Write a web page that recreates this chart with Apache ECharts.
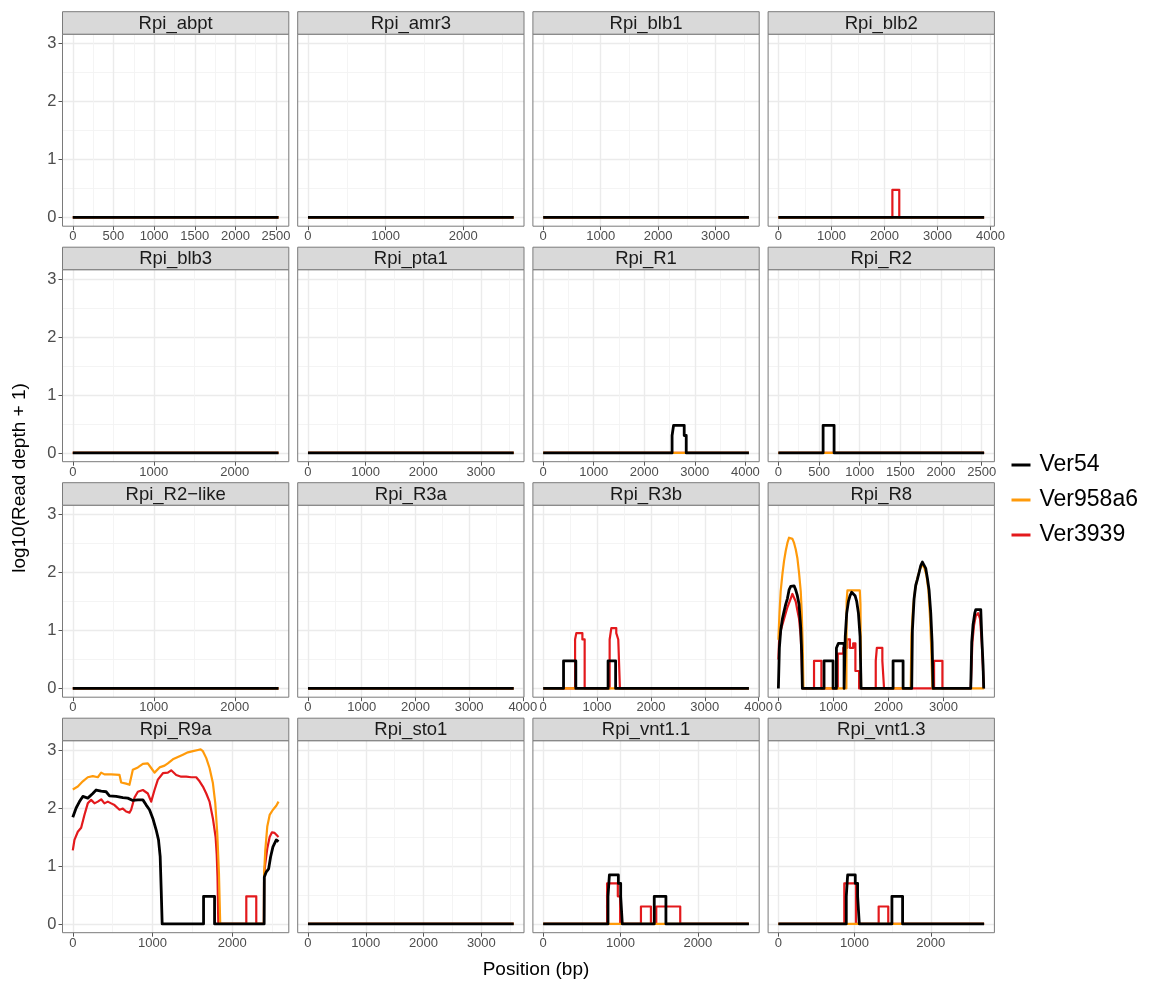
<!DOCTYPE html>
<html><head><meta charset="utf-8">
<script src="https://cdn.jsdelivr.net/npm/echarts@6/dist/echarts.min.js"></script>
<style>html,body{margin:0;padding:0;background:#fff}#c{width:1151px;height:982px}</style>
</head><body><div id="c"></div>
<script>
// ---------- data ----------
const samples = ['Ver54', 'Ver958a6', 'Ver3939'];
const genes = ['Rpi_abpt','Rpi_amr3','Rpi_blb1','Rpi_blb2','Rpi_blb3','Rpi_pta1','Rpi_R1','Rpi_R2',
  'Rpi_R2\u2212like','Rpi_R3a','Rpi_R3b','Rpi_R8','Rpi_R9a','Rpi_sto1','Rpi_vnt1.1','Rpi_vnt1.3'];
const geneLength = [2530, 2650, 3580, 3880, 2540, 3570, 4070, 2530, 2540, 3830, 3820, 3740, 2580, 3560, 2660, 2700];
const xTickStep = [500, 1000, 1000, 1000, 1000, 1000, 1000, 500, 1000, 1000, 1000, 1000, 1000, 1000, 1000, 1000];
const yTicks = [0, 1, 2, 3];
const yMinorTicks = [0.5, 1.5, 2.5];
const yDataMax = 3.01;

// coverage profiles: [position (bp), log10(depth + 1)]
const blb2_Ver3939 = [[0,0],[2150,0],[2150,0.477],[2280,0.477],[2280,0],[3880,0]];
const R1_Ver54 = [[0,0],[2550,0],[2550,0.301],[2580,0.301],[2580,0.477],[2790,0.477],[2790,0.301],[2830,0.301],[2830,0],[4070,0]];
const R2_Ver54 = [[0,0],[550,0],[550,0.477],[685,0.477],[685,0],[2530,0]];
const R3b_Ver54 = [[0,0],[378,0],[378,0.477],[606,0.477],[606,0],[1205,0],[1205,0.477],[1345,0.477],[1345,0],[3820,0]];
const R3b_Ver3939 = [[0,0],[592,0],[592,0.845],[615,0.845],[615,0.954],[728,0.954],[728,0.845],[770,0.845],[770,0],
  [1234,0],[1234,0.845],[1265,0.845],[1265,1.041],[1357,1.041],[1357,0.954],[1394,0.954],[1394,0.845],[1425,0.845],[1425,0],[3820,0]];
const R8_Ver54 = [[0,0],[18,0.7],[42,1.0],[73,1.2],[103,1.33],[133,1.45],[164,1.55],[194,1.7],[224,1.76],[255,1.79],[285,1.77],[315,1.7],[345,1.6],[376,1.45],[406,1.05],[424,0.6],[436,0],
  [830,0],[830,0.477],[994,0.477],[994,0],[1055,0],[1055,0.699],[1091,0.699],[1091,0.778],[1194,0.778],[1194,0],
  [1212,0],[1216,0.9],[1242,1.3],[1273,1.5],[1303,1.6],[1333,1.66],[1364,1.65],[1394,1.6],[1424,1.5],[1455,1.3],[1485,0.9],[1503,0],
  [2085,0],[2085,0.477],[2267,0.477],[2267,0],
  [2424,0],[2436,1.0],[2467,1.55],[2497,1.78],[2527,1.88],[2558,2.0],[2588,2.12],[2618,2.18],[2648,2.15],[2679,2.07],[2709,1.9],[2739,1.7],[2770,1.3],[2794,0.8],[2812,0],
  [3497,0],[3515,0.8],[3539,1.1],[3570,1.3],[3588,1.36],[3679,1.36],[3697,0.9],[3721,0.4],[3733,0],[3740,0]];
const R8_Ver958a6 = [[0,0.84],[20,1.3],[42,1.68],[73,1.97],[103,2.2],[133,2.37],[164,2.51],[194,2.6],[224,2.61],[255,2.58],[285,2.51],[315,2.4],[345,2.25],[376,1.99],[406,1.68],[424,1.33],[442,0.75],[455,0],
  [1236,0],[1240,1.5],[1255,1.69],[1480,1.69],[1492,1.45],[1503,0],
  [2406,0],[2418,0.9],[2448,1.4],[2485,1.7],[2527,1.9],[2570,2.05],[2606,2.12],[2648,2.1],[2691,1.95],[2727,1.7],[2758,1.2],[2782,0.6],[2800,0],
  [3740,0]];
const R8_Ver3939 = [[0,0.5],[12,0.8],[42,1.0],[103,1.2],[164,1.4],[224,1.55],[255,1.63],[285,1.6],[315,1.5],[345,1.35],[376,1.2],[406,0.9],[424,0.5],[436,0],
  [648,0],[648,0.477],[782,0.477],[782,0],
  [1080,0],[1080,0.602],[1180,0.602],[1180,0.699],[1250,0.699],[1250,0.845],[1300,0.845],[1300,0.699],[1360,0.699],[1360,0.778],[1400,0.778],[1400,0.301],[1467,0.301],[1467,0],
  [1770,0],[1770,0.477],[1790,0.477],[1790,0.699],[1890,0.699],[1890,0.477],[1921,0.477],[1921,0],
  [2830,0],[2830,0.477],[2982,0.477],[2982,0],
  [3497,0],[3527,0.8],[3558,1.1],[3588,1.25],[3630,1.3],[3667,1.2],[3697,0.8],[3721,0.3],[3733,0],[3740,0]];
const R9a_Ver54 = [[0,1.84],[42,2.0],[84,2.11],[126,2.2],[188,2.17],[251,2.25],[293,2.31],[356,2.29],[418,2.28],[460,2.21],[544,2.2],[628,2.18],[690,2.17],[753,2.13],[816,2.14],[879,2.14],[921,2.05],[962,1.97],[1004,1.82],[1046,1.62],[1075,1.45],[1096,1.16],[1109,0.58],[1121,0],
  [1640,0],[1640,0.477],[1778,0.477],[1778,0],
  [2400,0],[2402,0.81],[2427,0.9],[2456,0.95],[2481,1.16],[2510,1.33],[2552,1.45],[2580,1.42]];
const R9a_Ver958a6 = [[0,2.32],[63,2.37],[126,2.46],[188,2.53],[251,2.55],[314,2.53],[356,2.61],[397,2.58],[481,2.58],[586,2.57],[607,2.44],[669,2.42],[711,2.4],[753,2.66],[816,2.7],[879,2.76],[941,2.77],[983,2.69],[1025,2.61],[1088,2.7],[1151,2.73],[1192,2.77],[1255,2.84],[1318,2.88],[1381,2.92],[1444,2.96],[1506,2.98],[1569,3.0],[1603,3.01],[1632,2.98],[1674,2.86],[1715,2.69],[1757,2.43],[1787,2.08],[1812,1.56],[1833,0.87],[1849,0],
  [2397,0],[2399,0.87],[2414,1.27],[2439,1.68],[2469,1.88],[2510,1.97],[2552,2.04],[2580,2.11]];
const R9a_Ver3939 = [[0,1.27],[21,1.45],[63,1.59],[105,1.66],[146,1.88],[188,2.08],[230,2.14],[272,2.08],[314,2.11],[356,2.15],[397,2.08],[439,2.11],[481,2.08],[523,2.05],[586,1.97],[628,1.99],[669,1.94],[711,1.92],[732,1.97],[774,2.18],[816,2.28],[879,2.31],[941,2.25],[983,2.11],[1025,2.31],[1067,2.49],[1130,2.6],[1192,2.61],[1234,2.65],[1297,2.57],[1360,2.54],[1423,2.54],[1485,2.53],[1548,2.53],[1590,2.46],[1632,2.37],[1674,2.25],[1715,2.11],[1757,1.82],[1791,1.5],[1805,1.2],[1815,0.8],[1825,0],
  [2176,0],[2176,0.477],[2301,0.477],[2301,0],
  [2397,0],[2399,0.8],[2410,1.0],[2439,1.3],[2469,1.5],[2498,1.58],[2531,1.57],[2565,1.52],[2580,1.5]];
const vnt11_Ver54 = [[0,0],[838,0],[838,0.477],[856,0.477],[856,0.845],[972,0.845],[972,0.699],[1002,0.699],[1002,0.477],[1023,0.477],[1023,0],
  [1436,0],[1436,0.477],[1587,0.477],[1587,0],[2660,0]];
const vnt11_Ver3939 = [[0,0],[826,0],[826,0.699],[965,0.699],[965,0.477],[995,0.477],[995,0],
  [1264,0],[1264,0.301],[1393,0.301],[1393,0],[1462,0],[1462,0.301],[1772,0.301],[1772,0],[2660,0]];
const vnt13_Ver54 = [[0,0],[891,0],[891,0.477],[909,0.477],[909,0.845],[1009,0.845],[1009,0.699],[1040,0.699],[1040,0.477],[1062,0.477],[1062,0],
  [1490,0],[1490,0.477],[1630,0.477],[1630,0],[2700,0]];
const vnt13_Ver3939 = [[0,0],[865,0],[865,0.699],[1018,0.699],[1018,0],[1316,0],[1316,0.301],[1442,0.301],[1442,0],[2700,0]];

const coverage = {
  'Rpi_blb2|Ver3939': blb2_Ver3939,
  'Rpi_R1|Ver54': R1_Ver54,
  'Rpi_R2|Ver54': R2_Ver54,
  'Rpi_R3b|Ver54': R3b_Ver54, 'Rpi_R3b|Ver3939': R3b_Ver3939,
  'Rpi_R8|Ver54': R8_Ver54, 'Rpi_R8|Ver958a6': R8_Ver958a6, 'Rpi_R8|Ver3939': R8_Ver3939,
  'Rpi_R9a|Ver54': R9a_Ver54, 'Rpi_R9a|Ver958a6': R9a_Ver958a6, 'Rpi_R9a|Ver3939': R9a_Ver3939,
  'Rpi_vnt1.1|Ver54': vnt11_Ver54, 'Rpi_vnt1.1|Ver3939': vnt11_Ver3939,
  'Rpi_vnt1.3|Ver54': vnt13_Ver54, 'Rpi_vnt1.3|Ver3939': vnt13_Ver3939
};

// ---------- style / layout ----------
const FONT = '"Liberation Sans", Arial, Helvetica, sans-serif';
const colorOf = { 'Ver54': '#000000', 'Ver958a6': '#FF9A0A', 'Ver3939': '#E3191C' };
const widthOf = { 'Ver54': 2.8, 'Ver958a6': 2.2, 'Ver3939': 2.2 };
const drawOrder = ['Ver3939', 'Ver958a6', 'Ver54'];
const L0 = 62.5, PX = 235.2, PW = 226.3, T0 = 34.2, PY = 235.5, PH = 192, SH = 22.5;
const BORDER = '#7a7a7a';

const grids = [], xAxes = [], yAxes = [], series = [], graphics = [];
const yMin = -0.05 * yDataMax, yMax = 1.05 * yDataMax;

genes.forEach((g, i) => {
  const r = Math.floor(i / 4), c = i % 4;
  const left = L0 + c * PX, top = T0 + r * PY;
  const L = geneLength[i], s = xTickStep[i];
  const xmin = -0.05 * L, xmax = 1.05 * L;
  const major = [], minor = [];
  for (let v = 0; v <= xmax + 1e-9; v += s) major.push(v);
  for (let v = s / 2; v <= xmax + 1e-9; v += s) minor.push(v);

  grids.push({ left: left, top: top, width: PW, height: PH, show: true, backgroundColor: '#fff',
    borderWidth: 0, containLabel: false, outerBoundsMode: 'none' });

  xAxes.push({ type: 'value', gridIndex: i, min: xmin, max: xmax, position: 'bottom',
    axisLine: { show: false, onZero: false }, axisTick: { show: false, customValues: minor },
    axisLabel: { show: false }, splitLine: { show: true, lineStyle: { color: '#F3F3F3', width: 0.9 } } });
  xAxes.push({ type: 'value', gridIndex: i, min: xmin, max: xmax, position: 'bottom',
    axisLine: { show: false, onZero: false },
    axisTick: { show: true, length: 4, customValues: major, lineStyle: { color: '#555', width: 1 } },
    axisLabel: { show: true, customValues: major, formatter: v => String(v), fontSize: 13,
      color: '#4D4D4D', margin: 4, fontFamily: FONT },
    splitLine: { show: true, lineStyle: { color: '#EBEBEB', width: 1.4 } } });

  yAxes.push({ type: 'value', gridIndex: i, min: yMin, max: yMax, position: 'left',
    axisLine: { show: false, onZero: false }, axisTick: { show: false, customValues: yMinorTicks },
    axisLabel: { show: false }, splitLine: { show: true, lineStyle: { color: '#F3F3F3', width: 0.9 } } });
  yAxes.push({ type: 'value', gridIndex: i, min: yMin, max: yMax, position: 'left',
    axisLine: { show: false, onZero: false },
    axisTick: { show: c === 0, length: 4, customValues: yTicks, lineStyle: { color: '#555', width: 1 } },
    axisLabel: { show: c === 0, customValues: yTicks, formatter: v => String(v), fontSize: 16.5,
      color: '#4D4D4D', margin: 6, fontFamily: FONT },
    splitLine: { show: true, lineStyle: { color: '#EBEBEB', width: 1.4 } } });

  drawOrder.forEach(smp => {
    const data = coverage[g + '|' + smp] || [[0, 0], [L, 0]];
    series.push({ type: 'line', name: smp, xAxisIndex: 2 * i + 1, yAxisIndex: 2 * i + 1,
      data: data, showSymbol: false, symbol: 'none', silent: true, animation: false,
      lineStyle: { color: colorOf[smp], width: widthOf[smp], join: 'round', cap: 'butt' },
      itemStyle: { color: colorOf[smp] } });
  });

  graphics.push({ type: 'rect', silent: true, z: 100,
    shape: { x: left, y: top, width: PW, height: PH },
    style: { fill: 'none', stroke: BORDER, lineWidth: 1 } });
  graphics.push({ type: 'rect', silent: true, z: 100,
    shape: { x: left, y: top - SH, width: PW, height: SH },
    style: { fill: '#D9D9D9', stroke: BORDER, lineWidth: 1 } });
  graphics.push({ type: 'text', silent: true, z: 101, x: left + PW / 2, y: top - SH / 2 + 0.5,
    style: { text: g, fontSize: 18.5, fill: '#1A1A1A', align: 'center', verticalAlign: 'middle', fontFamily: FONT } });
});

graphics.push({ type: 'text', silent: true, z: 101, x: 20, y: 478, rotation: Math.PI / 2,
  style: { text: 'log10(Read depth + 1)', fontSize: 19, fill: '#000', align: 'center', verticalAlign: 'middle', fontFamily: FONT } });
graphics.push({ type: 'text', silent: true, z: 101, x: 536, y: 970,
  style: { text: 'Position (bp)', fontSize: 19, fill: '#000', align: 'center', verticalAlign: 'middle', fontFamily: FONT } });

const chart = echarts.init(document.getElementById('c'), null, { renderer: 'canvas' });
chart.setOption({
  animation: false,
  backgroundColor: '#ffffff',
  textStyle: { fontFamily: FONT },
  grid: grids, xAxis: xAxes, yAxis: yAxes, series: series,
  legend: { data: samples, orient: 'vertical', left: 1006.5, top: 448.5, itemWidth: 19, itemHeight: 3,
    itemGap: 12, icon: 'rect', selectedMode: false,
    textStyle: { fontSize: 23, color: '#000', lineHeight: 23, padding: [0, 0, 0, 4], fontFamily: FONT } },
  graphic: graphics
});
</script></body></html>
